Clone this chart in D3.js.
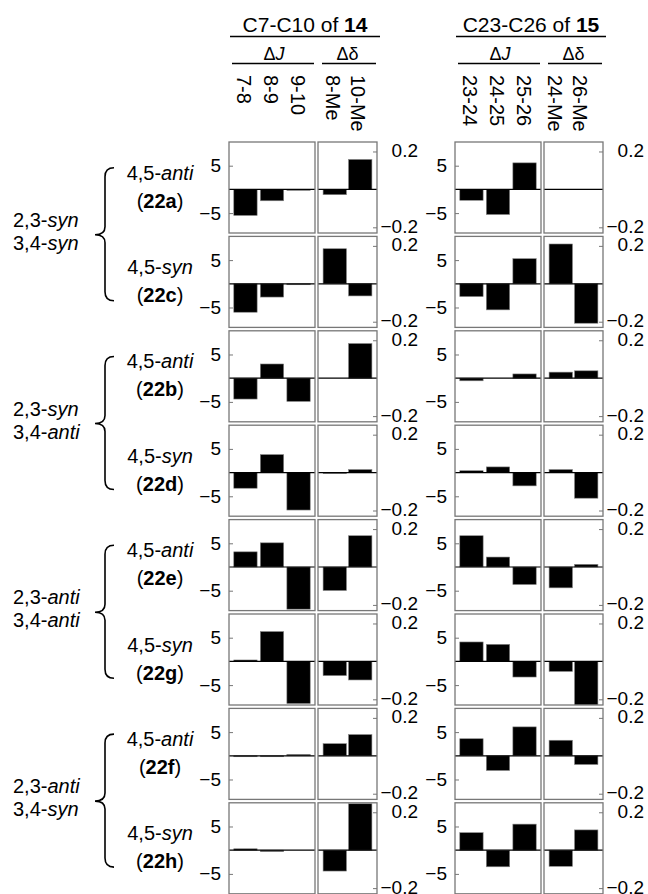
<!DOCTYPE html>
<html>
<head>
<meta charset="utf-8">
<script src="https://cdn.jsdelivr.net/npm/d3@7"></script>
<style>
  body { margin: 0; background: #fff; }
  text { font-family: "Liberation Sans", Arial, sans-serif; }
</style>
</head>
<body>
<svg id="chart" width="648" height="894"></svg>
<script>
// values, rows top to bottom
const compounds = ['22a', '22c', '22b', '22d', '22e', '22g', '22f', '22h']
const rowConfig = ['anti', 'syn', 'anti', 'syn', 'anti', 'syn', 'anti', 'syn']
const groups = [['syn', 'syn'], ['syn', 'anti'], ['anti', 'anti'], ['anti', 'syn']]

const titles = [['C7-C10 of ', '14'], ['C23-C26 of ', '15']]
const jLabels = [['7-8', '8-9', '9-10'], ['23-24', '24-25', '25-26']]
const dLabels = [['8-Me', '10-Me'], ['24-Me', '26-Me']]

// ΔJ (Hz) for C7-C10 of 14
const dJ14 = [
  [-5.5, -2.4, -0.2],
  [-6.0, -2.8, -0.2],
  [-4.4, 3.0, -4.9],
  [-3.3, 3.8, -7.9],
  [3.2, 5.1, -8.9],
  [0.3, 6.3, -8.9],
  [-0.2, -0.2, 0.3],
  [0.3, -0.3, 0]
]
// Δδ (ppm) for C7-C10 of 14
const dD14 = [
  [-0.028, 0.158],
  [0.185, -0.064],
  [0, 0.183],
  [-0.005, 0.016],
  [-0.124, 0.165],
  [-0.075, -0.098],
  [0.064, 0.112],
  [-0.11, 0.245]
]
// ΔJ for C23-C26 of 15
const dJ15 = [
  [-2.3, -5.3, 5.6],
  [-2.7, -5.5, 5.3],
  [-0.55, 0, 0.9],
  [0.4, 1.2, -2.8],
  [6.6, 2.1, -3.7],
  [4.1, 3.6, -3.3],
  [3.6, -3.1, 6.1],
  [3.7, -3.5, 5.5]
]
// Δδ for C23-C26 of 15
const dD15 = [
  [0, 0],
  [0.21, -0.208],
  [0.032, 0.039],
  [0.016, -0.135],
  [-0.11, 0.014],
  [-0.053, -0.23],
  [0.082, -0.046],
  [-0.085, 0.107]
]

const jTicks = [-5, 5]
const dTicks = [-0.2, 0.2]

const valuesJ = [dJ14, dJ15]
const valuesD = [dD14, dD15]

// layout
const colX = [229, 455]
const wJ = 86, wD = 59, gap = 3
const panelH = 91, rowStep = 94.4, top0 = 142
const frameColor = '#777'

const svg = d3.select('#chart')
svg.append('rect').attr('width', 648).attr('height', 894).attr('fill', '#fff')

const yJ = d3.scaleLinear().domain([-9.2, 10]).range([panelH, 0])
const yD = d3.scaleLinear().domain([-0.23, 0.25]).range([panelH, 0])
const xJ = d3.scaleBand().domain([0, 1, 2]).range([0, wJ]).paddingInner(0.12).paddingOuter(0.18)
const xD = d3.scaleBand().domain([0, 1]).range([0, wD]).paddingInner(0.08).paddingOuter(0.2)

let clipId = 0
function drawPanel(g, x0, w, x, y, vals) {
  const id = 'clip' + (clipId++)
  g.append('clipPath').attr('id', id)
    .append('rect').attr('x', x0).attr('y', 0).attr('width', w).attr('height', panelH)

  g.append('g').attr('clip-path', `url(#${id})`)
    .selectAll('rect')
    .data(vals)
    .join('rect')
    .attr('x', (d, i) => x0 + x(i))
    .attr('width', x.bandwidth())
    .attr('y', d => y(Math.max(0, d)))
    .attr('height', d => Math.abs(y(d) - y(0)))
    .attr('fill', '#000')
    .attr('stroke', '#888')
    .attr('stroke-width', 0.6)

  g.append('line')
    .attr('x1', x0).attr('x2', x0 + w)
    .attr('y1', y(0)).attr('y2', y(0))
    .attr('stroke', '#000').attr('stroke-width', 1.2)

  g.append('rect')
    .attr('x', x0).attr('y', 0).attr('width', w).attr('height', panelH)
    .attr('fill', 'none').attr('stroke', frameColor).attr('stroke-width', 1.3)
}

function styleAxis(ax) {
  ax.attr('font-size', 19).attr('font-family', '"Liberation Sans", Arial, sans-serif')
  ax.select('.domain').remove()
  ax.selectAll('.tick line').attr('stroke', frameColor)
  ax.selectAll('.tick text').attr('fill', '#000')
}

// panels
for (let c = 0; c < 2; c++) {
  for (let r = 0; r < compounds.length; r++) {
    const g = svg.append('g').attr('transform', `translate(${colX[c]},${top0 + r * rowStep})`)
    drawPanel(g, 0, wJ, xJ, yJ, valuesJ[c][r])
    drawPanel(g, wJ + gap, wD, xD, yD, valuesD[c][r])

    const left = g.append('g')
      .call(d3.axisLeft(yJ).tickValues(jTicks).tickSize(-4).tickPadding(8).tickFormat(d3.format('d')))
    styleAxis(left)

    const right = g.append('g').attr('transform', `translate(${wJ + gap + wD},0)`)
      .call(d3.axisRight(yD).tickValues(dTicks).tickSize(-4).tickFormat(d3.format('.1f')))
    styleAxis(right)
    right.selectAll('.tick text').attr('x', 41).attr('text-anchor', 'end').attr('dy', '0.26em')
  }
}

// column headers
for (let c = 0; c < 2; c++) {
  const x0 = colX[c]
  const t = svg.append('text')
    .attr('x', x0 + 76).attr('y', 32)
    .attr('text-anchor', 'middle').attr('font-size', 21)
  t.append('tspan').text(titles[c][0])
  t.append('tspan').attr('font-weight', 'bold').text(titles[c][1])
  svg.append('line').attr('x1', x0 + 1).attr('x2', x0 + 151).attr('y1', 36.5).attr('y2', 36.5)
    .attr('stroke', '#000').attr('stroke-width', 1.5)

  const tj = svg.append('text')
    .attr('x', x0 + wJ / 2 + 2).attr('y', 60)
    .attr('text-anchor', 'middle').attr('font-size', 18)
  tj.append('tspan').text('Δ')
  tj.append('tspan').attr('font-style', 'italic').text('J')
  svg.append('line').attr('x1', x0 + 3).attr('x2', x0 + 85).attr('y1', 63.5).attr('y2', 63.5)
    .attr('stroke', '#000').attr('stroke-width', 1.5)

  svg.append('text')
    .attr('x', x0 + wJ + gap + wD / 2).attr('y', 60)
    .attr('text-anchor', 'middle').attr('font-size', 18)
    .text('Δδ')
  svg.append('line').attr('x1', x0 + 93).attr('x2', x0 + 147).attr('y1', 63.5).attr('y2', 63.5)
    .attr('stroke', '#000').attr('stroke-width', 1.5)

  // rotated bond labels
  jLabels[c].forEach((lab, i) => {
    svg.append('text')
      .attr('transform', `translate(${x0 + xJ(i) + xJ.bandwidth() / 2 - 1},75) rotate(90)`)
      .attr('dy', '0.35em').attr('font-size', 20)
      .text(lab)
  })
  dLabels[c].forEach((lab, i) => {
    svg.append('text')
      .attr('transform', `translate(${x0 + wJ + gap + xD(i) + xD.bandwidth() / 2 - 2 - c * 4},75) rotate(90)`)
      .attr('dy', '0.35em').attr('font-size', 20)
      .text(lab)
  })
}

// row labels
compounds.forEach((cmp, r) => {
  const cy = top0 + r * rowStep + panelH / 2
  const t1 = svg.append('text').attr('x', 160).attr('y', cy - 8)
    .attr('text-anchor', 'middle').attr('font-size', 20)
  t1.append('tspan').text('4,5-')
  t1.append('tspan').attr('font-style', 'italic').text(rowConfig[r])
  const t2 = svg.append('text').attr('x', 160).attr('y', cy + 20)
    .attr('text-anchor', 'middle').attr('font-size', 20)
  t2.append('tspan').text('(')
  t2.append('tspan').attr('font-weight', 'bold').text(cmp)
  t2.append('tspan').text(')')
})

// group labels with braces
groups.forEach((grp, k) => {
  const cy = top0 + (2 * k) * rowStep + (rowStep + panelH) / 2
  const a = svg.append('text').attr('x', 13).attr('y', cy - 8).attr('font-size', 20)
  a.append('tspan').text('2,3-')
  a.append('tspan').attr('font-style', 'italic').text(grp[0])
  const b = svg.append('text').attr('x', 13).attr('y', cy + 15).attr('font-size', 20)
  b.append('tspan').text('3,4-')
  b.append('tspan').attr('font-style', 'italic').text(grp[1])

  const top = cy - 67, bot = cy + 66, xv = 105, xe = 114, xt = 95
  const p = d3.path()
  p.moveTo(xe, top)
  p.quadraticCurveTo(xv, top, xv, top + 9)
  p.lineTo(xv, cy - 8)
  p.quadraticCurveTo(xv, cy, xt, cy)
  p.quadraticCurveTo(xv, cy, xv, cy + 8)
  p.lineTo(xv, bot - 9)
  p.quadraticCurveTo(xv, bot, xe, bot)
  svg.append('path').attr('d', p.toString())
    .attr('fill', 'none').attr('stroke', '#000').attr('stroke-width', 1.6)
})
</script>
</body>
</html>
